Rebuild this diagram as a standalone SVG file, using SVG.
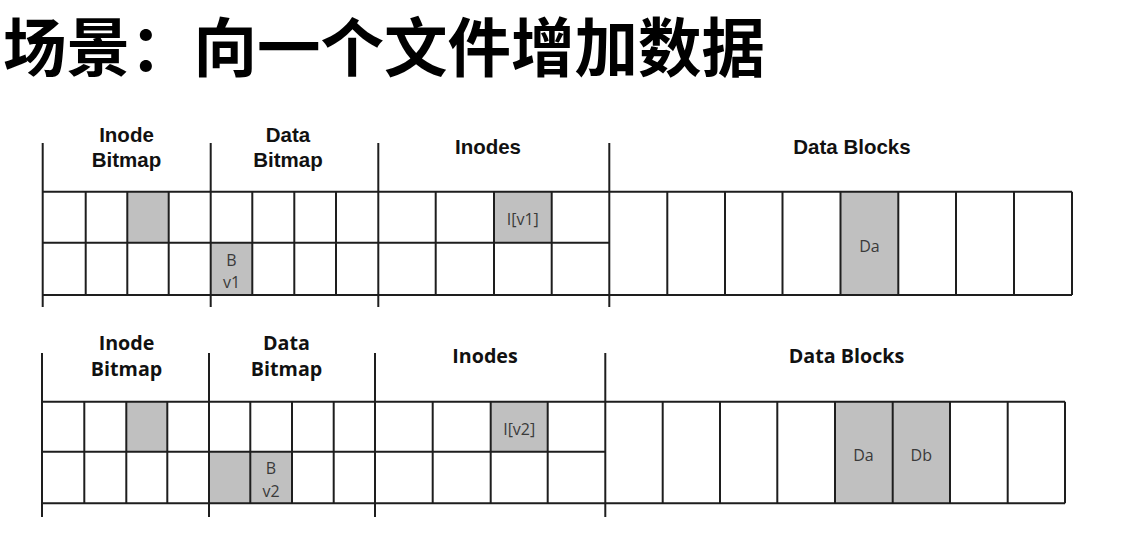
<svg xmlns="http://www.w3.org/2000/svg" width="1121" height="541" viewBox="0 0 1121 541">
<style>
.bg{fill:#ffffff}
.ln{stroke:#1e1e1e;stroke-width:2;fill:none}
.sh{fill:#c0c0c0}
.title{font-family:"Noto Sans CJK SC","Noto Sans",sans-serif;font-weight:700;font-size:63.5px;fill:#000}
.h1{font-family:"Liberation Sans",Arial,sans-serif;font-weight:700;font-size:20.5px;fill:#111;text-anchor:middle}
.h2{font-family:"Open Sans","Noto Sans",sans-serif;font-weight:700;font-size:19.7px;fill:#111;text-anchor:middle}
.c{font-family:"Open Sans","Noto Sans",sans-serif;font-size:16px;fill:#3a3a3a;text-anchor:middle;dominant-baseline:central}
</style>
<rect class="bg" x="0" y="0" width="1121" height="541"/>
<g id="title"><text class="title" x="3" y="71">场景：向一个文件增加数据</text></g>

<!-- TOP SECTION -->
<g id="top-labels">
<text class="h1" x="126.5" y="142">Inode</text>
<text class="h1" x="126.5" y="167">Bitmap</text>
<text class="h1" x="288" y="142">Data</text>
<text class="h1" x="288" y="167">Bitmap</text>
<text class="h1" x="488" y="154">Inodes</text>
<text class="h1" x="852" y="154">Data Blocks</text>
</g>
<g id="top-inode-bitmap-bit"><rect class="sh" x="127.3" y="191.7" width="41.4" height="51"/></g>
<g id="top-data-bitmap-bit"><rect class="sh" x="210.7" y="242.7" width="41.6" height="52.3"/>
<text class="c" x="231.5" y="260">B</text><text class="c" x="231.5" y="281.5">v1</text></g>
<g id="top-inode-v1"><rect class="sh" x="494" y="191.7" width="57.7" height="51"/>
<text class="c" x="522.8" y="219">I[v1]</text></g>
<g id="top-data-da"><rect class="sh" x="840.5" y="191.7" width="57.8" height="103.3"/>
<text class="c" x="869.4" y="245.5">Da</text></g>
<g id="top-grid">
<path class="ln" d="M42.7 191.7H1072M42.7 242.7H609.3M42.7 295H1072"/>
<path class="ln" d="M42.7 143V307M210.7 143V307M378.3 143V307M609.3 143V307"/>
<path class="ln" d="M85.7 191.7V295M127.3 191.7V295M168.7 191.7V295M252.3 191.7V295M294.3 191.7V295M336 191.7V295M435.7 191.7V295M494 191.7V295M551.7 191.7V295"/>
<path class="ln" d="M667.3 191.7V295M725 191.7V295M782.5 191.7V295M840.5 191.7V295M898.3 191.7V295M956 191.7V295M1014 191.7V295M1072 191.7V295"/>
</g>

<!-- BOTTOM SECTION -->
<g id="bottom-labels">
<text class="h2" x="126.5" y="350">Inode</text>
<text class="h2" x="126.5" y="376">Bitmap</text>
<text class="h2" x="286.5" y="350">Data</text>
<text class="h2" x="286.5" y="376">Bitmap</text>
<text class="h2" x="485" y="362.5">Inodes</text>
<text class="h2" x="846.5" y="362.5">Data Blocks</text>
</g>
<g id="bottom-inode-bitmap-bit"><rect class="sh" x="126.3" y="401.7" width="41" height="50"/></g>
<g id="bottom-data-bitmap-bits"><rect class="sh" x="209" y="451.7" width="83" height="51.6"/>
<text class="c" x="271" y="467.5">B</text><text class="c" x="271" y="490.5">v2</text></g>
<g id="bottom-inode-v2"><rect class="sh" x="490.7" y="401.7" width="57" height="50"/>
<text class="c" x="519.2" y="429">I[v2]</text></g>
<g id="bottom-data-da-db"><rect class="sh" x="835" y="401.7" width="115" height="101.6"/>
<text class="c" x="863.5" y="454.5">Da</text><text class="c" x="921.3" y="454.5">Db</text></g>
<g id="bottom-grid">
<path class="ln" d="M42 401.7H1065M42 451.7H605.3M42 503.3H1065"/>
<path class="ln" d="M42 353V517M209 353V517M375 353V517M605.3 353V517"/>
<path class="ln" d="M84.3 401.7V503.3M126.3 401.7V503.3M167.3 401.7V503.3M250.3 401.7V503.3M292 401.7V503.3M333.7 401.7V503.3M432.7 401.7V503.3M490.7 401.7V503.3M547.7 401.7V503.3"/>
<path class="ln" d="M662.7 401.7V503.3M720 401.7V503.3M777.3 401.7V503.3M835 401.7V503.3M892.7 401.7V503.3M950 401.7V503.3M1007.7 401.7V503.3M1065 401.7V503.3"/>
</g>
<g id="connectors"></g>
</svg>
